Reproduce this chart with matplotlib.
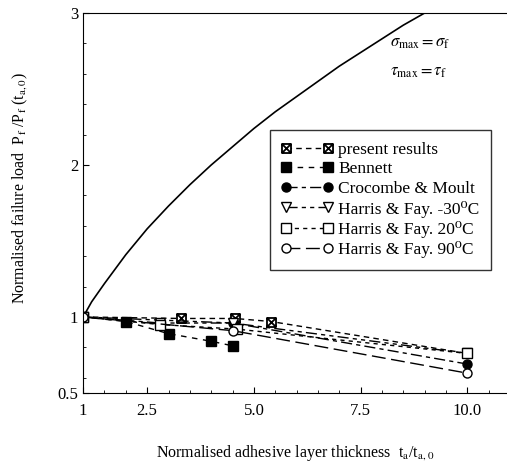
import matplotlib
matplotlib.use("Agg")
import matplotlib.pyplot as plt
from matplotlib.path import Path
from matplotlib.ticker import MultipleLocator, FixedLocator
import numpy as np

plt.rcParams['font.family'] = ['Liberation Serif', 'DejaVu Serif']
plt.rcParams['mathtext.fontset'] = 'stix'

# curve sigma_max = sigma_f, tau_max = tau_f
curve_x = [1.0, 1.2, 1.5, 2.0, 2.5, 3.0, 3.5, 4.0, 4.5, 5.0, 5.5, 6.0, 6.5, 7.0, 7.5, 8.0, 8.5, 9.0]
curve_y = [1.0, 1.10, 1.22, 1.41, 1.58, 1.73, 1.87, 2.0, 2.12, 2.24, 2.35, 2.45, 2.55, 2.65, 2.74, 2.83, 2.92, 3.0]

# test data
present_x = [1, 3.3, 4.55, 5.4, 10]
present_y = [1.0, 0.99, 0.99, 0.97, 0.76]
bennett_x = [1, 2, 3, 4, 4.5]
bennett_y = [1.0, 0.97, 0.89, 0.84, 0.81]
crocombe_x = [1, 4.5, 10]
crocombe_y = [1.0, 0.96, 0.69]
hf30_x = [1, 2.8, 4.5, 10]
hf30_y = [1.0, 0.96, 0.96, 0.76]
hf20_x = [1, 2.8, 4.6, 10]
hf20_y = [1.0, 0.95, 0.92, 0.76]
hf90_x = [1, 4.5, 10]
hf90_y = [1.0, 0.91, 0.63]

xticks = [1, 2.5, 5, 7.5, 10]
xticklabels = ["1", "2.5", "5.0", "7.5", "10.0"]
yticks = [0.5, 1, 2, 3]
yticklabels = ["0.5", "1", "2", "3"]

# square with diagonals marker
verts = [(-1, -1), (1, -1), (1, 1), (-1, 1), (-1, -1),
         (-1, -1), (1, 1), (-1, 1), (1, -1)]
codes = [Path.MOVETO, Path.LINETO, Path.LINETO, Path.LINETO, Path.CLOSEPOLY,
         Path.MOVETO, Path.LINETO, Path.MOVETO, Path.LINETO]
xsquare = Path(verts, codes)

fig = plt.figure(figsize=(5.07, 4.65), dpi=100)
ax = fig.add_axes([0.164, 0.155, 0.836, 0.817])

ax.plot(curve_x, curve_y, color='black', lw=1.2)

ax.plot(present_x, present_y, color='black', lw=1.0, dashes=(4, 3),
        marker=xsquare, ms=6.5, mfc='white', mec='black', mew=1.3, label='present results')
ax.plot(bennett_x, bennett_y, color='black', lw=1.0, dashes=(4, 4),
        marker='s', ms=6.5, mfc='black', mec='black', label='Bennett')
ax.plot(crocombe_x, crocombe_y, color='black', lw=1.0, dashes=(8, 3, 3, 3),
        marker='o', ms=6.5, mfc='black', mec='black', label='Crocombe & Moult')
ax.plot(hf30_x, hf30_y, color='black', lw=1.0, dashes=(8, 3, 3, 3, 3, 3),
        marker='v', ms=6.5, mfc='white', mec='black', label='Harris & Fay. -30\u2070C')
ax.plot(hf20_x, hf20_y, color='black', lw=1.0, dashes=(3, 3),
        marker='s', ms=6.5, mfc='white', mec='black', label='Harris & Fay. 20\u2070C')
ax.plot(hf90_x, hf90_y, color='black', lw=1.0, dashes=(10, 4),
        marker='o', ms=6.5, mfc='white', mec='black', label='Harris & Fay. 90\u2070C')

ax.text(8.2, 2.78, r'$\sigma_{\rm max} = \sigma_{\rm f}$', fontsize=12)
ax.text(8.2, 2.59, r'$\tau_{\rm max} = \tau_{\rm f}$', fontsize=12)

ax.set_xlim(1, 10.93)
ax.set_ylim(0.5, 3)
ax.xaxis.set_major_locator(FixedLocator(xticks))
ax.set_xticklabels(xticklabels)
ax.xaxis.set_minor_locator(MultipleLocator(0.5))
ax.yaxis.set_major_locator(FixedLocator(yticks))
ax.set_yticklabels(yticklabels)
ax.yaxis.set_minor_locator(MultipleLocator(0.2))
ax.tick_params(which='both', direction='in', labelsize=12, top=False, right=False)
ax.tick_params(which='major', length=4)
ax.tick_params(which='minor', length=2)
ax.tick_params(axis='x', pad=7)
ax.spines['right'].set_visible(False)

ax.set_xlabel(r'Normalised adhesive layer thickness  t$_{\rm a}$/t$_{\rm a,0}$', fontsize=11.5, labelpad=18)
ax.set_ylabel(r'Normalised failure load  P$_{\rm f}$ /P$_{\rm f}$ (t$_{\rm a,0}$)', fontsize=11.5, labelpad=16)
ax.yaxis.set_label_coords(-0.125, 0.54)

leg = ax.legend(loc='upper left', bbox_to_anchor=(0.42, 0.714), numpoints=2, frameon=True,
                fancybox=False, edgecolor='black', fontsize=12.5, handlelength=3.0,
                labelspacing=0.2, borderpad=0.65, handletextpad=0.3)
leg.get_frame().set_linewidth(1.0)

fig.savefig('out.png', dpi=100)
